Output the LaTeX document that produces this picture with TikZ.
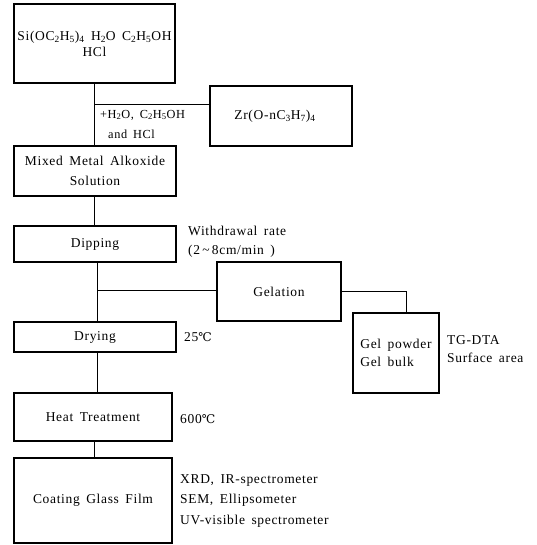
\documentclass[tikz,border=0pt]{standalone}
\usepackage{fontspec}
\setmainfont{Liberation Serif}[LetterSpace=5,WordSpace=1.6]
\newfontfamily\degfont{DejaVu Serif}
\newcommand{\degC}{{\degfont\fontsize{12}{12}\selectfont ℃}}
\newcommand{\fs}[1]{\fontsize{13.5}{#1}\selectfont}
\begin{document}
\begin{tikzpicture}[x=1pt,y=-1pt,
  box/.style={draw,line width=1.1pt,inner sep=0pt},
  conn/.style={line width=0.9pt},
  lbl/.style={anchor=west,inner sep=0pt},
  every node/.append style={font=\fs{19}}]
\useasboundingbox (0,0) rectangle (536,545);
% boxes
\node[box,minimum width=161pt,minimum height=79pt,align=center,font=\fs{16}] (b1) at (94.5,43.5)
  {Si(OC\textsubscript{2}H\textsubscript{5})\textsubscript{4} H\textsubscript{2}O C\textsubscript{2}H\textsubscript{5}OH\\HCl};
\node[box,minimum width=142pt,minimum height=60pt,text width=126pt,align=center] (zr) at (281,116)
  {\hspace*{-12pt}Zr(O-nC\textsubscript{3}H\textsubscript{7})\textsubscript{4}};
\node[box,minimum width=162pt,minimum height=50pt,align=center,font=\fs{20}] (mix) at (95,171)
  {Mixed Metal Alkoxide\\Solution};
\node[box,minimum width=162pt,minimum height=36pt] (dip) at (95,244) {Dipping};
\node[box,minimum width=124pt,minimum height=59pt] (gel) at (279,291.5) {Gelation};
\node[box,minimum width=86pt,minimum height=80pt,align=left,font=\fs{18}] (gb) at (396,353)
  {Gel powder\\Gel bulk};
\node[box,minimum width=162pt,minimum height=30pt] (dry) at (95,337) {Drying};
\node[box,minimum width=158pt,minimum height=48pt] (heat) at (93,417) {Heat Treatment};
\node[box,minimum width=158pt,minimum height=85pt] (coat) at (93,500.5) {Coating Glass Film};
% side labels
\node[lbl,align=left,font=\fontsize{12.3}{20}\selectfont] (l1) at (100,124)
  {+H\textsubscript{2}O, C\textsubscript{2}H\textsubscript{5}OH\\\hspace*{8pt}and HCl};
\node[lbl,align=left] (l2) at (188,242) {Withdrawal rate\\(2\,\textasciitilde\,8cm/min )};
\node[lbl,align=left,font=\fs{18}] (l3) at (447,349) {TG-DTA\\Surface area};
\node[lbl] (l4) at (184,337) {25\degC};
\node[lbl] (l5) at (180,419) {600\degC};
\node[lbl,align=left,font=\fs{20.5}] (l6) at (180,501)
  {XRD, IR-spectrometer\\SEM, Ellipsometer\\UV-visible spectrometer};
% connectors
\coordinate (j1) at (94,104);
\coordinate (j2) at (97,290);
\coordinate (j3) at (406,291.5);
\draw[conn] (b1.south -| j1) -- (mix.north -| j1);
\draw[conn] (j1) -- (zr.west |- j1);
\draw[conn] (mix.south -| j1) -- (dip.north -| j1);
\draw[conn] (dip.south -| j2) -- (dry.north -| j2);
\draw[conn] (j2) -- (gel.west |- j2);
\draw[conn] (gel.east) -- (j3) -- (gb.north -| j3);
\draw[conn] (dry.south -| j2) -- (heat.north -| j2);
\draw[conn] (heat.south -| j1) -- (coat.north -| j1);
\end{tikzpicture}
\end{document}
